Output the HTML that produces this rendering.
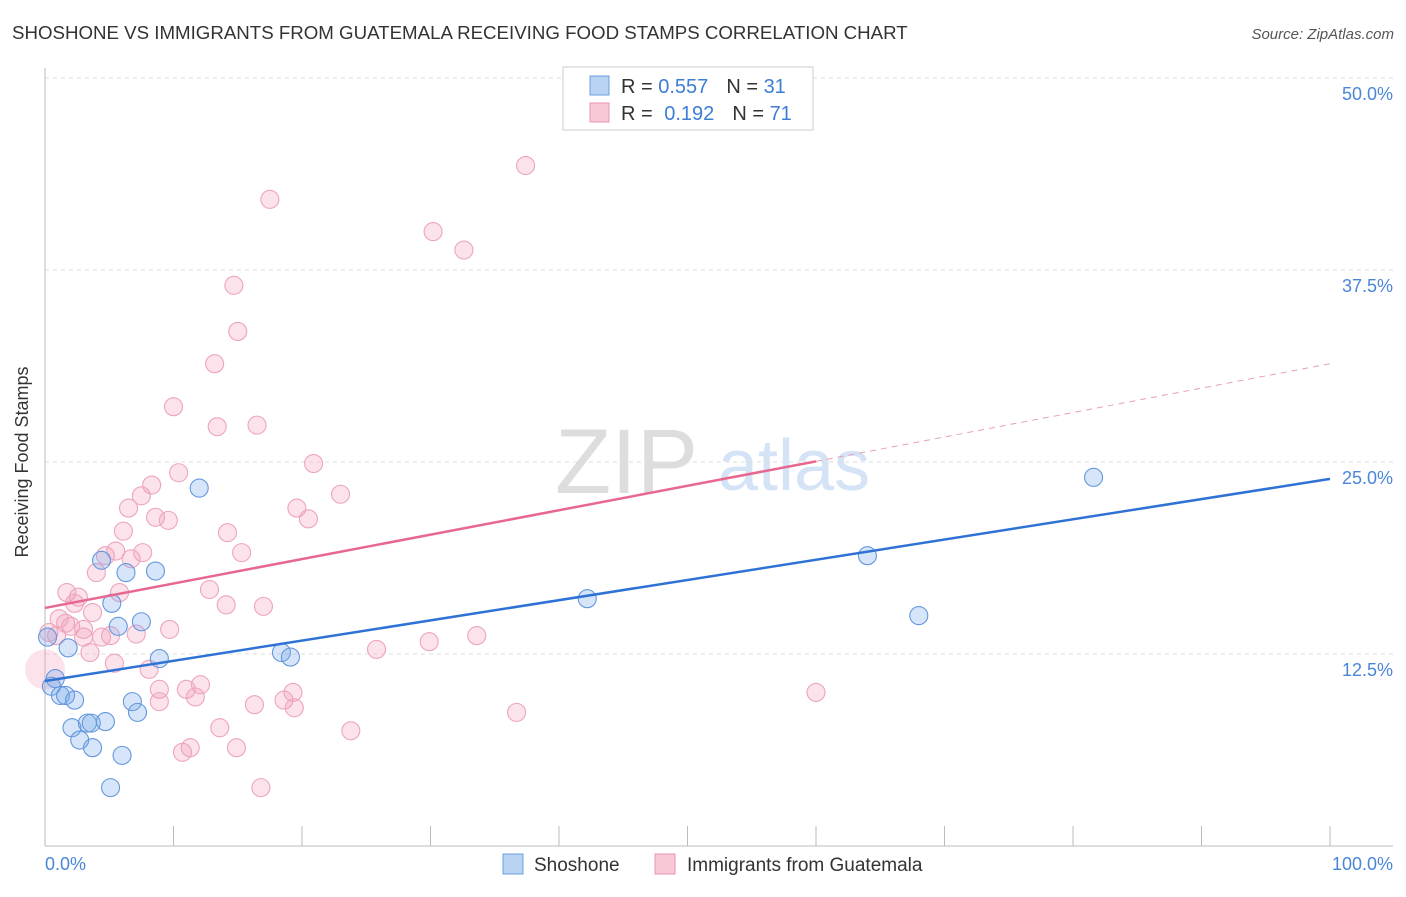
<!DOCTYPE html>
<html><head><meta charset="utf-8"><style>
body{margin:0;background:#fff;font-family:"Liberation Sans",sans-serif;}
svg text{font-family:"Liberation Sans",sans-serif;}
</style></head><body>
<svg width="1406" height="892">
<text x="12" y="39" font-size="18.7" fill="#333">SHOSHONE VS IMMIGRANTS FROM GUATEMALA RECEIVING FOOD STAMPS CORRELATION CHART</text>
<text x="1394" y="39" font-size="15" fill="#555" font-style="italic" text-anchor="end">Source: ZipAtlas.com</text>
<text x="555" y="493" font-size="92" fill="#ddd" font-family="Liberation Serif">ZIP</text>
<text x="718" y="490" font-size="72" fill="#d4e3f5">atlas</text>
<g id="grid"></g>
<line x1="45" y1="68" x2="45" y2="846" stroke="#bbb"/>
<line x1="45" y1="846" x2="1393" y2="846" stroke="#bbb"/>
<g id="xticks"></g>
<text x="22" y="456" font-size="18" fill="#333" text-anchor="middle" transform="rotate(-90 28 456)">Receiving Food Stamps</text>
<text x="45" y="870" font-size="18" fill="#4a86d8">0.0%</text>
<text x="1393" y="870" font-size="18" fill="#4a86d8" text-anchor="end">100.0%</text>
<g id="pts"></g>
<g id="lines"></g>
<g>
<rect x="563" y="67" width="250" height="63" fill="#fff" stroke="#ccc"/>
<rect x="590" y="76" width="19" height="19" fill="#b9d3f3" stroke="#6a9fe0"/>
<rect x="590" y="103" width="19" height="19" fill="#f9c8d7" stroke="#ea92ae"/>
<text x="621" y="93" font-size="20" fill="#333">R = <tspan fill="#3d7dd6">0.557</tspan><tspan dx="18">N = </tspan><tspan fill="#3d7dd6">31</tspan></text>
<text x="621" y="120" font-size="20" fill="#333">R = <tspan fill="#3d7dd6" dx="6">0.192</tspan><tspan dx="18">N = </tspan><tspan fill="#3d7dd6">71</tspan></text>
</g>
<g>
<rect x="503" y="854" width="20" height="20" fill="#b9d3f3" stroke="#6a9fe0"/>
<text x="534" y="871" font-size="19" fill="#333">Shoshone</text>
<rect x="655" y="854" width="20" height="20" fill="#f9c8d7" stroke="#ea92ae"/>
<text x="687" y="871" font-size="19" fill="#333">Immigrants from Guatemala</text>
</g>
</svg>
<script>
const yTicks=[12.5,25,37.5,50];
const yTickLabels=["12.5%","25.0%","37.5%","50.0%"];
const blueX=[12.0,4.4,6.3,8.6,5.2,7.5,5.7,1.8,8.9,18.4,19.1,0.8,0.5,1.2,1.6,2.3,6.8,7.2,2.1,3.3,3.6,4.7,2.7,3.7,6.0,5.1,42.2,64.0,68.0,81.6,0.2];
const blueY=[23.3,18.6,17.8,17.9,15.8,14.6,14.3,12.9,12.2,12.6,12.3,10.9,10.4,9.8,9.8,9.5,9.4,8.7,7.7,8.0,8.0,8.1,6.9,6.4,5.9,3.8,16.1,18.9,15.0,24.0,13.6];
const pinkX=[37.4,17.5,30.2,32.6,14.7,15.0,13.2,10.0,13.4,16.5,20.9,10.4,8.3,7.5,23.0,6.5,19.6,8.6,9.6,20.5,6.1,14.2,5.5,7.6,15.3,4.7,6.7,4.0,12.8,1.7,2.6,5.8,2.3,14.1,17.0,3.7,1.1,1.6,2.0,3.0,9.7,0.3,0.9,5.1,7.1,3.0,4.4,33.6,29.9,3.5,25.8,5.4,8.1,8.9,12.1,11.0,19.3,11.7,18.6,8.9,16.3,19.4,60.0,36.7,13.6,23.8,11.3,10.7,14.9,16.8];
const pinkY=[44.3,42.1,40.0,38.8,36.5,33.5,31.4,28.6,27.3,27.4,24.9,24.3,23.5,22.8,22.9,22.0,22.0,21.4,21.2,21.3,20.5,20.4,19.2,19.1,19.1,18.9,18.7,17.8,16.7,16.5,16.2,16.5,15.8,15.7,15.6,15.2,14.8,14.5,14.3,14.1,14.1,13.9,13.7,13.7,13.8,13.6,13.6,13.7,13.3,12.6,12.8,11.9,11.5,10.2,10.5,10.2,10.0,9.7,9.5,9.4,9.2,9.0,10.0,8.7,7.7,7.5,6.4,6.1,6.4,3.8];
const blueLine=[10.74,23.9];
const pinkLine=[15.5,31.4];
const pinkSolidEnd=60;
const NS="http://www.w3.org/2000/svg";
const xs=v=>45+v*12.85, ys=v=>846-v*15.36;
function mk(t,a,p){const e=document.createElementNS(NS,t);for(const k in a)e.setAttribute(k,a[k]);p.appendChild(e);return e;}
const grid=document.getElementById('grid');
yTicks.forEach((t,i)=>{
 const l=mk('line',{x1:45,x2:1393,y1:ys(t),y2:ys(t),stroke:'#ddd','stroke-dasharray':'4,4'},grid);
 
 
 const tx=mk('text',{x:1393,y:ys(t)+22,'font-size':18,fill:'#4a86d8','text-anchor':'end'},grid);
 tx.textContent=yTickLabels[i];
 
 
});
const xt=document.getElementById('xticks');
for(let i=0;i<=10;i++){const l=mk('line',{x1:xs(i*10),x2:xs(i*10),y1:826,y2:846,stroke:'#bbb'},xt);
 
 }
const pts=document.getElementById('pts');
pinkX.forEach((x,i)=>{const c=mk('circle',{cx:xs(x),cy:ys(pinkY[i]),r:9,fill:'rgba(242,160,188,0.3)',stroke:'#eda5bb','stroke-width':1.1},pts);
 
 });
{const c=mk('circle',{cx:xs(0),cy:ys(11.5),r:20,fill:'rgba(242,160,188,0.3)',stroke:'none'},pts);
 
 }
blueX.forEach((x,i)=>{const c=mk('circle',{cx:xs(x),cy:ys(blueY[i]),r:9,fill:'rgba(120,170,235,0.3)',stroke:'#6497dc','stroke-width':1.1},pts);
 
 });
const lg=document.getElementById('lines');
const pAt=v=>pinkLine[0]+(pinkLine[1]-pinkLine[0])*v/100;
let l1=mk('line',{x1:xs(0),y1:ys(blueLine[0]),x2:xs(100),y2:ys(blueLine[1]),stroke:'#2f72d6','stroke-width':2.5},lg);


let l2=mk('line',{x1:xs(0),y1:ys(pAt(0)),x2:xs(pinkSolidEnd),y2:ys(pAt(pinkSolidEnd)),stroke:'#e8678f','stroke-width':2.5},lg);


let l3=mk('line',{x1:xs(pinkSolidEnd),y1:ys(pAt(pinkSolidEnd)),x2:xs(100),y2:ys(pAt(100)),stroke:'#e8a0b5','stroke-width':1,'stroke-dasharray':'6,5'},lg);


</script>
</body></html>
